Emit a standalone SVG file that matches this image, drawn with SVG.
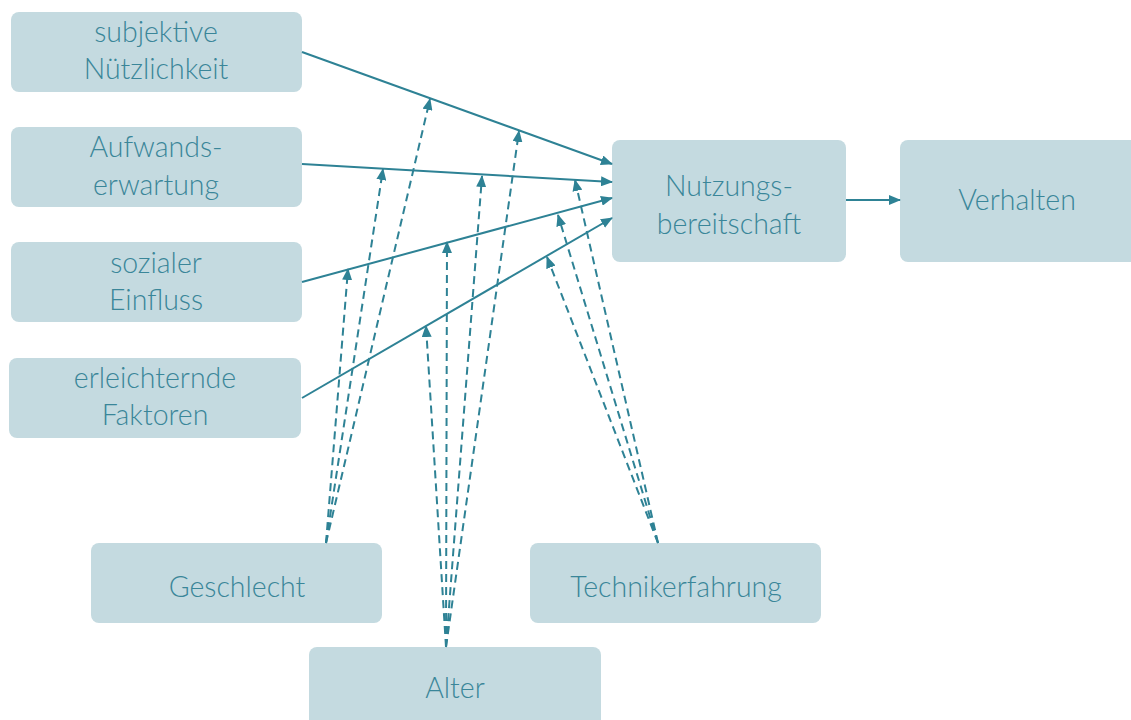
<svg xmlns="http://www.w3.org/2000/svg" width="1131" height="720" viewBox="0 0 1131 720">
<style>
.box{fill:#c4dae0}
.t{font-family:Lato,"Open Sans","Liberation Sans",sans-serif;font-weight:300;font-size:28.5px;fill:#3a8699;text-anchor:middle}
.s{stroke:#2e8295;stroke-width:2;fill:none}
.d{stroke:#2e8295;stroke-width:2;fill:none;stroke-dasharray:8 5}
</style>
<defs>
<marker id="ah" viewBox="0 0 12 10" markerWidth="12" markerHeight="10" refX="11" refY="5" orient="auto" markerUnits="userSpaceOnUse">
<path d="M0,0 L12,5 L0,10 z" fill="#2e8295"/>
</marker>
</defs>
<rect width="1131" height="720" fill="#ffffff"/>
<g id="n-nuetzlichkeit"><rect class="box" x="11" y="12" width="291" height="80" rx="8"/><text class="t" x="156" y="42">subjektive</text><text class="t" x="156" y="79">Nützlichkeit</text></g>
<g id="n-aufwand"><rect class="box" x="11" y="127" width="291" height="80" rx="8"/><text class="t" x="156" y="157">Aufwands-</text><text class="t" x="156" y="195">erwartung</text></g>
<g id="n-sozial"><rect class="box" x="11" y="242" width="291" height="80" rx="8"/><text class="t" x="156" y="273">sozialer</text><text class="t" x="156" y="310">Einfluss</text></g>
<g id="n-faktoren"><rect class="box" x="9" y="358" width="292" height="80" rx="8"/><text class="t" x="155" y="388">erleichternde</text><text class="t" x="155" y="425">Faktoren</text></g>
<g id="n-nutzung"><rect class="box" x="612" y="140" width="234" height="122" rx="8"/><text class="t" x="729" y="196">Nutzungs-</text><text class="t" x="729" y="234">bereitschaft</text></g>
<g id="n-verhalten"><rect class="box" x="900" y="140" width="240" height="122" rx="8"/><text class="t" x="1017" y="210">Verhalten</text></g>
<g id="n-geschlecht"><rect class="box" x="91" y="543" width="291" height="80" rx="8"/><text class="t" x="237" y="597">Geschlecht</text></g>
<g id="n-technik"><rect class="box" x="530" y="543" width="291" height="80" rx="8"/><text class="t" x="676" y="597">Technikerfahrung</text></g>
<g id="n-alter"><rect class="box" x="309" y="647" width="292" height="90" rx="8"/><text class="t" x="455" y="698">Alter</text></g>
<g id="connectors">
<line class="s" x1="302" y1="52" x2="612" y2="164" marker-end="url(#ah)"/>
<line class="s" x1="302" y1="164" x2="612" y2="182" marker-end="url(#ah)"/>
<line class="s" x1="302" y1="282" x2="612" y2="198" marker-end="url(#ah)"/>
<line class="s" x1="302" y1="398" x2="612" y2="218" marker-end="url(#ah)"/>
<line class="s" x1="846" y1="200" x2="900" y2="200" marker-end="url(#ah)"/>
<line class="d" x1="326" y1="543" x2="430" y2="99" marker-end="url(#ah)"/>
<line class="d" x1="326" y1="543" x2="383" y2="169" marker-end="url(#ah)"/>
<line class="d" x1="326" y1="543" x2="348" y2="269" marker-end="url(#ah)"/>
<line class="d" x1="446" y1="647" x2="519" y2="131" marker-end="url(#ah)"/>
<line class="d" x1="446" y1="647" x2="482" y2="176" marker-end="url(#ah)"/>
<line class="d" x1="446" y1="647" x2="447" y2="242" marker-end="url(#ah)"/>
<line class="d" x1="446" y1="647" x2="426" y2="326" marker-end="url(#ah)"/>
<line class="d" x1="658" y1="543" x2="575" y2="180" marker-end="url(#ah)"/>
<line class="d" x1="658" y1="543" x2="558" y2="215" marker-end="url(#ah)"/>
<line class="d" x1="658" y1="543" x2="547" y2="257" marker-end="url(#ah)"/>
</g>
</svg>
